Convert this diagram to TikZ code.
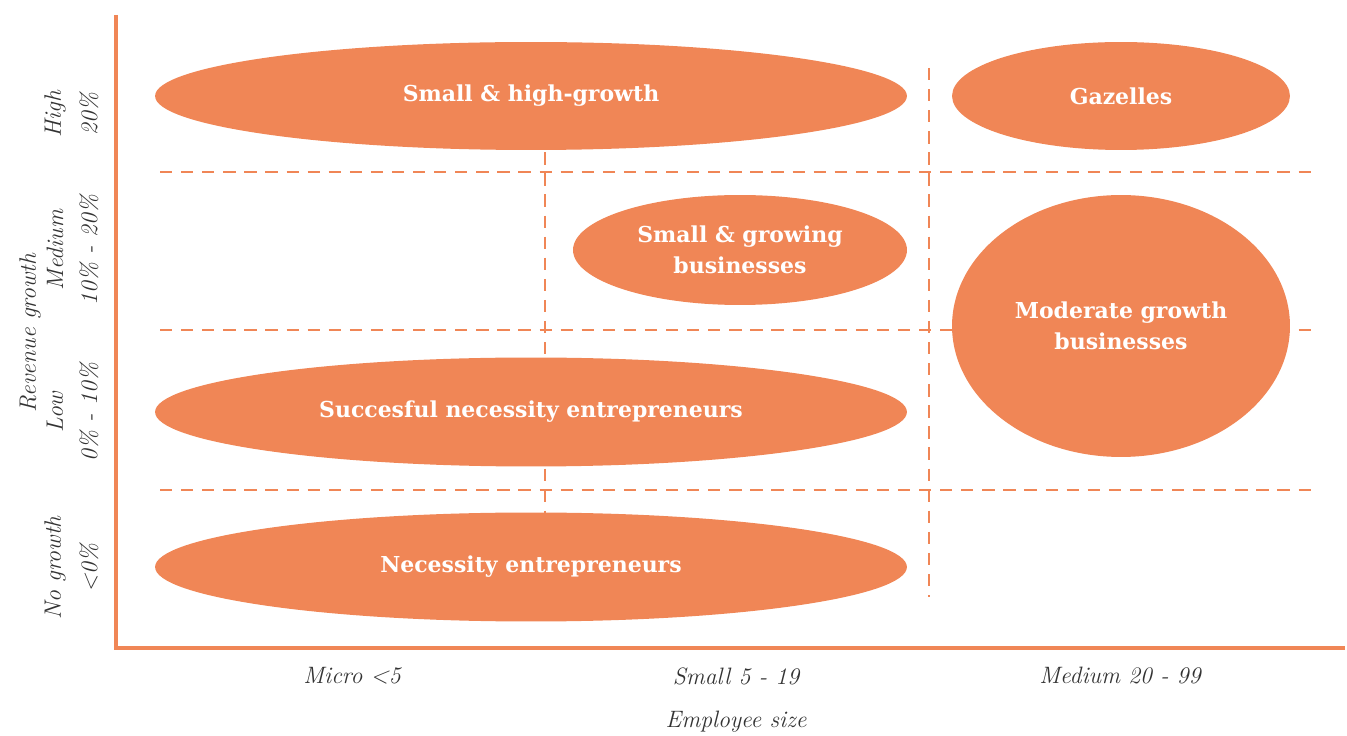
\documentclass[tikz,border=0pt]{standalone}
\usepackage{fontspec}
\usetikzlibrary{shapes.geometric}
\newfontfamily\slabfont{DejaVu Serif}
\definecolor{growthorange}{HTML}{F08656}
\definecolor{axisgray}{HTML}{333333}
\tikzset{
  blob/.style={shape=ellipse,fill=growthorange,inner sep=0pt,text=white,align=center,
    font=\slabfont\bfseries\fontsize{12.5}{18}\selectfont},
  axislabel/.style={text=axisgray,font=\itshape\fontsize{13.5}{15}\selectfont},
  gridline/.style={draw=growthorange,dash pattern=on 7pt off 5pt,line width=0.6pt},
}
\begin{document}
\begin{tikzpicture}[x=0.02cm,y=-0.02cm]
\useasboundingbox (0,0) rectangle (1347,736);
% dashed grid
\draw[gridline] (160,172) -- (1312,172);
\draw[gridline] (160,330) -- (1312,330);
\draw[gridline] (160,490) -- (1312,490);
\draw[gridline] (545,68) -- (545,597);
\draw[gridline] (929,68) -- (929,597);
% axes
\coordinate(top) at (116,15);
\coordinate(origin) at (116,648);
\coordinate(right) at (1345,648);
\draw[growthorange,line width=1.9pt] (top) -- (origin) -- (right);
% groups
\node(highgrowth) [blob,minimum width=15.04cm,minimum height=2.16cm] at (531,96) {Small \& high-growth};
\node(gazelles) [blob,minimum width=6.76cm,minimum height=2.16cm] at (1121,96) {Gazelles};
\node(growing) [blob,minimum width=6.68cm,minimum height=2.2cm] at (740,250) {Small \& growing\\businesses};
\node(moderate) [blob,minimum width=6.76cm,minimum height=5.24cm] at (1121,326) {Moderate growth\\businesses};
\node(successful) [blob,minimum width=15.04cm,minimum height=2.18cm] at (531,412) {Succesful necessity entrepreneurs};
\node(necessity) [blob,minimum width=15.04cm,minimum height=2.18cm] at (531,567) {Necessity entrepreneurs};
% employee size
\node(micro) [axislabel] at (352,676) {Micro <5};
\node(small) [axislabel] at (736,676) {Small 5 - 19};
\node(medium) [axislabel] at (1120,676) {Medium 20 - 99};
\node(xtitle) [axislabel] at (736,722) {Employee size};
% revenue growth
\node(ytitle) [axislabel,rotate=90] at (30,333) {Revenue growth};
\node(high) [axislabel,rotate=90] at (55,114) {High};
\node(highpct) [axislabel,rotate=90] at (89,114) {20\%};
\node(med) [axislabel,rotate=90] at (55,250) {Medium};
\node(medpct) [axislabel,rotate=90] at (89,250) {10\% - 20\%};
\node(low) [axislabel,rotate=90] at (55,412) {Low};
\node(lowpct) [axislabel,rotate=90] at (89,412) {0\% - 10\%};
\node(none) [axislabel,rotate=90] at (55,568) {No growth};
\node(nonepct) [axislabel,rotate=90] at (89,568) {<0\%};
\end{tikzpicture}
\end{document}
